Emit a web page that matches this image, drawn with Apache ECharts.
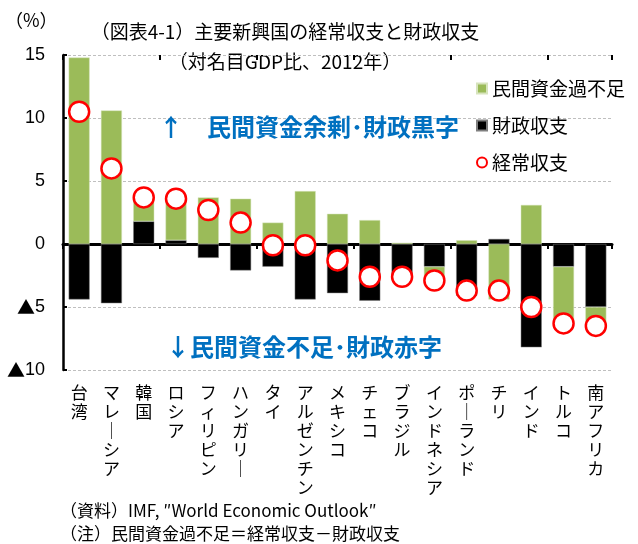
<!DOCTYPE html>
<html lang="ja">
<head>
<meta charset="UTF-8">
<title>主要新興国の経常収支と財政収支</title>
<script src="https://cdn.jsdelivr.net/npm/echarts@6.0.0/dist/echarts.min.js"></script>
<style>
  html, body { margin: 0; padding: 0; background: #fff; }
  #main { width: 638px; height: 544px; }
</style>
</head>
<body>
<div id="main"></div>
<script type="text/javascript">
// countries, left to right
const categories = ['台湾', 'マレーシア', '韓国', 'ロシア', 'フィリピン', 'ハンガリー', 'タイ', 'アルゼンチン',
  'メキシコ', 'チェコ', 'ブラジル', 'インドネシア', 'ポーランド', 'チリ', 'インド', 'トルコ', '南アフリカ'];

// % of nominal GDP, 2012
const privateBalance = [14.8, 10.6, 1.9, 3.3, 3.7, 3.6, 1.7, 4.2, 2.4, 1.9, 0.1, -1.1, 0.3, -4.4, 3.1, -4.5, -1.5];
const fiscalBalance = [-4.4, -4.7, 1.8, 0.3, -1.1, -2.1, -1.8, -4.4, -3.9, -4.5, -2.8, -1.8, -4.1, 0.4, -8.2, -1.8, -5.0];
const currentAccount = [10.5, 6.0, 3.7, 3.6, 2.7, 1.7, -0.1, -0.1, -1.3, -2.6, -2.6, -2.9, -3.7, -3.7, -5.0, -6.3, -6.5];

const yTicks = [15, 10, 5, 0, -5, -10];

const jp = "'Noto Sans CJK JP', sans-serif";
const num = "'Liberation Sans', 'Noto Sans CJK JP', sans-serif";
const GREEN = '#9BBB59';
const BLUE = '#0070C0';

let myChart = echarts.init(document.getElementById('main'));

// vertical text: one character per line, long vowel mark turned upright
function vertical(s) {
  return s.split('').map(c => (c === 'ー' ? '｜' : c)).join('\n');
}

// negative numbers are written with a triangle, Japanese style
function yLabel(v) {
  if (yTicks.indexOf(v) < 0) return '';
  return v < 0 ? '{tri|▲}' + (-v) : String(v);
}

let options = {
  animation: false,
  grid: { left: 63, right: 26, top: 55, bottom: 174 },
  legend: {
    orient: 'vertical',
    left: 471,
    top: 74,
    itemWidth: 10,
    itemHeight: 10,
    itemGap: 18,
    textStyle: { fontFamily: jp, fontSize: 19, lineHeight: 19, color: '#000' },
    data: [
      { name: '民間資金過不足', icon: 'rect' },
      { name: '財政収支', icon: 'rect' },
      { name: '経常収支', icon: 'circle' }
    ]
  },
  xAxis: [
    {
      type: 'category',
      data: categories,
      axisLine: { onZero: true, lineStyle: { color: '#000', width: 3 } },
      axisTick: { show: true, length: 5, lineStyle: { color: '#000', width: 2 } },
      axisLabel: { show: false },
      splitLine: { show: false }
    },
    {
      type: 'category',
      data: categories,
      position: 'bottom',
      axisLine: { show: false, onZero: false },
      axisTick: { show: false },
      axisLabel: {
        show: true,
        interval: 0,
        margin: 13,
        fontFamily: jp,
        fontSize: 17,
        lineHeight: 19,
        color: '#000',
        formatter: vertical
      }
    },
    {
      type: 'category',
      data: categories,
      axisLine: { show: false, onZero: true },
      axisTick: { show: true, inside: true, length: 5, lineStyle: { color: '#000', width: 2 } },
      axisLabel: { show: false }
    }
  ],
  yAxis: {
    type: 'value',
    min: -10,
    max: 15,
    interval: 5,
    axisLine: { show: true, lineStyle: { color: '#000', width: 2.5 } },
    axisTick: { show: true, inside: true, length: 4, lineStyle: { color: '#000', width: 2 } },
    axisLabel: {
      fontFamily: num,
      fontSize: 18,
      color: '#000',
      margin: 18,
      formatter: yLabel,
      rich: {
        tri: { fontFamily: jp, fontSize: 18, color: '#000' }
      }
    },
    splitLine: { show: true, lineStyle: { color: '#BFBFBF', type: [3, 2], width: 1 } }
  },
  series: [
    {
      name: '財政収支',
      type: 'bar',
      stack: 'balance',
      barWidth: 21,
      itemStyle: { color: '#000', borderColor: '#7f7f7f', borderWidth: 0.5 },
      data: fiscalBalance
    },
    {
      name: '民間資金過不足',
      type: 'bar',
      stack: 'balance',
      barWidth: 21,
      itemStyle: { color: GREEN, borderColor: '#d7e4bd', borderWidth: 0.5 },
      data: privateBalance
    },
    {
      name: '経常収支',
      type: 'scatter',
      symbol: 'circle',
      symbolSize: 20,
      z: 5,
      itemStyle: { color: '#fff', borderColor: '#FF0000', borderWidth: 2.5, opacity: 1 },
      data: currentAccount
    }
  ],
  graphic: [
    { type: 'text', left: 5, top: 11, style: { text: '（%）', font: '18px ' + jp, fill: '#000' } },
    { type: 'text', x: 285, y: 32, style: { text: '（図表4-1）主要新興国の経常収支と財政収支', font: '19px ' + jp, fill: '#000', textAlign: 'center', textVerticalAlign: 'middle' } },
    { type: 'text', x: 285, y: 62, style: { text: '（対名目GDP比、2012年）', font: '19px ' + jp, fill: '#000', textAlign: 'center', textVerticalAlign: 'middle' } },
    { type: 'text', x: 159, y: 127, z: 10, style: { text: '↑　民間資金余剰･財政黒字', font: 'bold 24px ' + jp, fill: BLUE, textVerticalAlign: 'middle' } },
    { type: 'text', x: 166, y: 347, z: 10, style: { text: '↓民間資金不足･財政赤字', font: 'bold 24px ' + jp, fill: BLUE, textVerticalAlign: 'middle' } },
    { type: 'text', x: 60, y: 511, style: { text: '（資料）IMF, ″World Economic Outlook″', font: '17px ' + jp, fill: '#000', textVerticalAlign: 'middle' } },
    { type: 'text', x: 60, y: 534, style: { text: '（注）民間資金過不足＝経常収支－財政収支', font: '17px ' + jp, fill: '#000', textVerticalAlign: 'middle' } }
  ]
};

myChart.setOption(options);
</script>
</body>
</html>
